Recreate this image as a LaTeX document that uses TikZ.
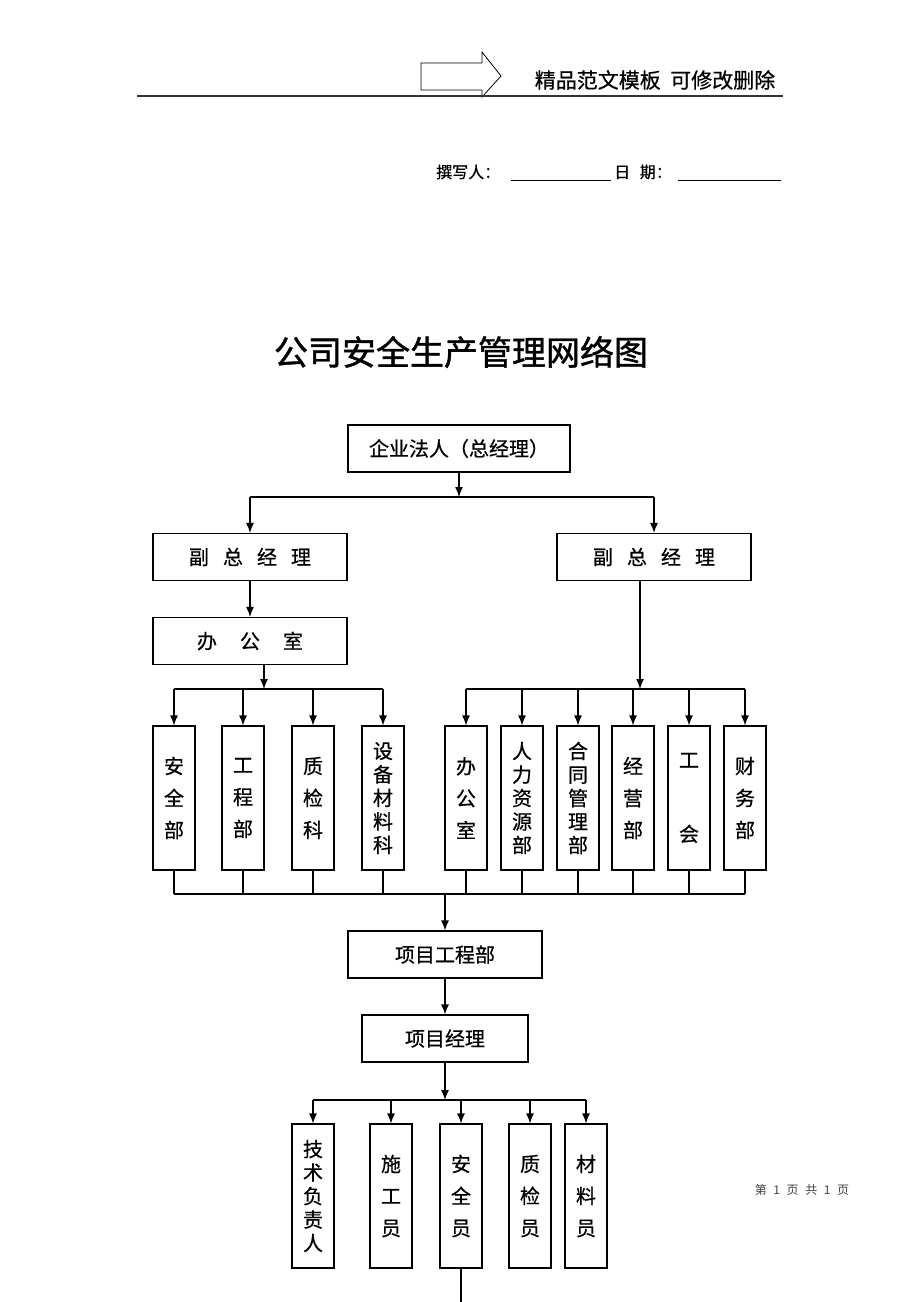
\documentclass[tikz,border=0pt]{standalone}
\usepackage{fontspec}
\setmainfont{Noto Sans CJK SC}
\newfontfamily\heavyfont[FakeBold=1.2]{Noto Sans CJK SC}
\newfontfamily\midfont[FakeBold=0.6]{Noto Sans CJK SC}
\usetikzlibrary{arrows.meta}
\newcommand\sgap{\hspace{0.7em}}
\newcommand\wgap{\hspace{1.15em}}
\newcommand\fgap{\hspace{0.55em}}
\tikzset{
  hbox/.style={draw,line width=1.1pt,inner sep=0pt,minimum height=47pt,
    font=\midfont\fontsize{20}{24}\selectfont},
  vbox/.style={draw,line width=1.1pt,inner sep=0pt,minimum width=42pt,
    minimum height=144pt,align=center,font=\midfont\fontsize{20}{32}\selectfont},
  vboxtight/.style={vbox,font=\midfont\fontsize{20}{23.5}\selectfont},
  link/.style={line width=1.3pt},
  arr/.style={link,-{Latex[length=10pt,width=8pt]}}
}
\begin{document}
\begin{tikzpicture}[x=1pt,y=-1pt]
   \useasboundingbox (0,0) rectangle (920,1302);
   % page header
   \draw [line width=0.8pt] (421,63) -- (482,63) -- (482,52) -- (501,76)
     -- (482,97) -- (482,90) -- (421,90) -- cycle;
   \draw [line width=1.2pt,black!80] (137,96) -- (783,96);
   \node (tmpl) at (655,80) {\midfont\fontsize{21}{24}\selectfont 精品范文模板\hspace{0.45em}可修改删除};
   \node [anchor=west,inner sep=0pt] (writer) at (436,172) {\midfont\fontsize{16}{20}\selectfont 撰写人：};
   \node [anchor=west,inner sep=0pt] (datel) at (614,172) {\midfont\fontsize{16}{20}\selectfont 日\hspace{0.6em}期：};
   \draw [line width=1pt] (511,180) -- (611,180);
   \draw [line width=1pt] (678,180) -- (781,180);
   \node (title) at (461,352) {\heavyfont\fontsize{34}{38}\selectfont 公司安全生产管理网络图};

   % top levels
   \node [hbox,minimum width=222pt] (ceo) at (459,448.5) {企业法人（总经理）};
   \node [hbox,minimum width=194pt] (vpl) at (250,557) {副\sgap 总\sgap 经\sgap 理};
   \node [hbox,minimum width=194pt] (vpr) at (654,557) {副\sgap 总\sgap 经\sgap 理};
   \node [hbox,minimum width=194pt] (offl) at (250,641) {办\wgap 公\wgap 室};
   \coordinate (busA) at (459,497);
   \draw [arr] (ceo.south) -- (busA);
   \draw [link] (vpl.north |- busA) -- (vpr.north |- busA);
   \draw [arr] (vpl.north |- busA) -- (vpl);
   \draw [arr] (vpr.north |- busA) -- (vpr);
   \draw [arr] (vpl) -- (offl);

   % departments
   \node [vbox] (l1) at (174,798) {安\\全\\部};
   \node [vbox] (l2) at (243,798) {工\\程\\部};
   \node [vbox] (l3) at (313,798) {质\\检\\科};
   \node [vboxtight] (l4) at (383,798) {设\\备\\材\\料\\科};
   \node [vbox] (r1) at (466,798) {办\\公\\室};
   \node [vboxtight] (r2) at (522,798) {人\\力\\资\\源\\部};
   \node [vboxtight] (r3) at (578,798) {合\\同\\管\\理\\部};
   \node [vbox] (r4) at (633,798) {经\\营\\部};
   \node [vbox] (r5) at (689,798) {工\\[42pt]会};
   \node [vbox] (r6) at (745,798) {财\\务\\部};

   \coordinate (busL) at ([xshift=14pt]offl.south |- 0,689);
   \draw [arr] ([xshift=14pt]offl.south) -- (busL);
   \draw [link] (l1.north |- busL) -- (l4.north |- busL);
   \foreach \n in {l1,l2,l3,l4}
     \draw [arr] (\n.north |- busL) -- (\n);

   \coordinate (busR) at ([xshift=-14pt]vpr.south |- 0,689);
   \draw [arr] ([xshift=-14pt]vpr.south) -- (busR);
   \draw [link] (r1.north |- busR) -- (r6.north |- busR);
   \foreach \n in {r1,r2,r3,r4,r5,r6}
     \draw [arr] (\n.north |- busR) -- (\n);

   % project level
   \node [hbox,minimum width=194pt] (proj) at (445,954.5) {项目工程部};
   \node [hbox,minimum width=166pt] (pm) at (445,1038.5) {项目经理};
   \coordinate (busB) at (445,894);
   \foreach \n in {l1,l2,l3,l4,r1,r2,r3,r4,r5,r6}
     \draw [link] (\n.south) -- (\n.south |- busB);
   \draw [link] (l1.south |- busB) -- (r6.south |- busB);
   \draw [arr] (busB) -- (proj);
   \draw [arr] (proj) -- (pm);

   % site staff
   \node [vboxtight] (s1) at (313,1196) {技\\术\\负\\责\\人};
   \node [vbox] (s2) at (391,1196) {施\\工\\员};
   \node [vbox] (s3) at (461,1196) {安\\全\\员};
   \node [vbox] (s4) at (530,1196) {质\\检\\员};
   \node [vbox] (s5) at (586,1196) {材\\料\\员};
   \coordinate (busS) at (445,1100);
   \draw [arr] (pm) -- (busS);
   \draw [link] (s1.north |- busS) -- (s5.north |- busS);
   \foreach \n in {s1,s2,s3,s4,s5}
     \draw [arr] (\n.north |- busS) -- (\n);
   \coordinate (tail) at (461,1302);
   \draw [link] (s3) -- (tail);

   \node (pageno) at (802,1190) {\fontsize{12}{14}\selectfont\color{black!75}第\fgap 1\fgap 页\fgap 共\fgap 1\fgap 页};
  \end{tikzpicture}
\end{document}
